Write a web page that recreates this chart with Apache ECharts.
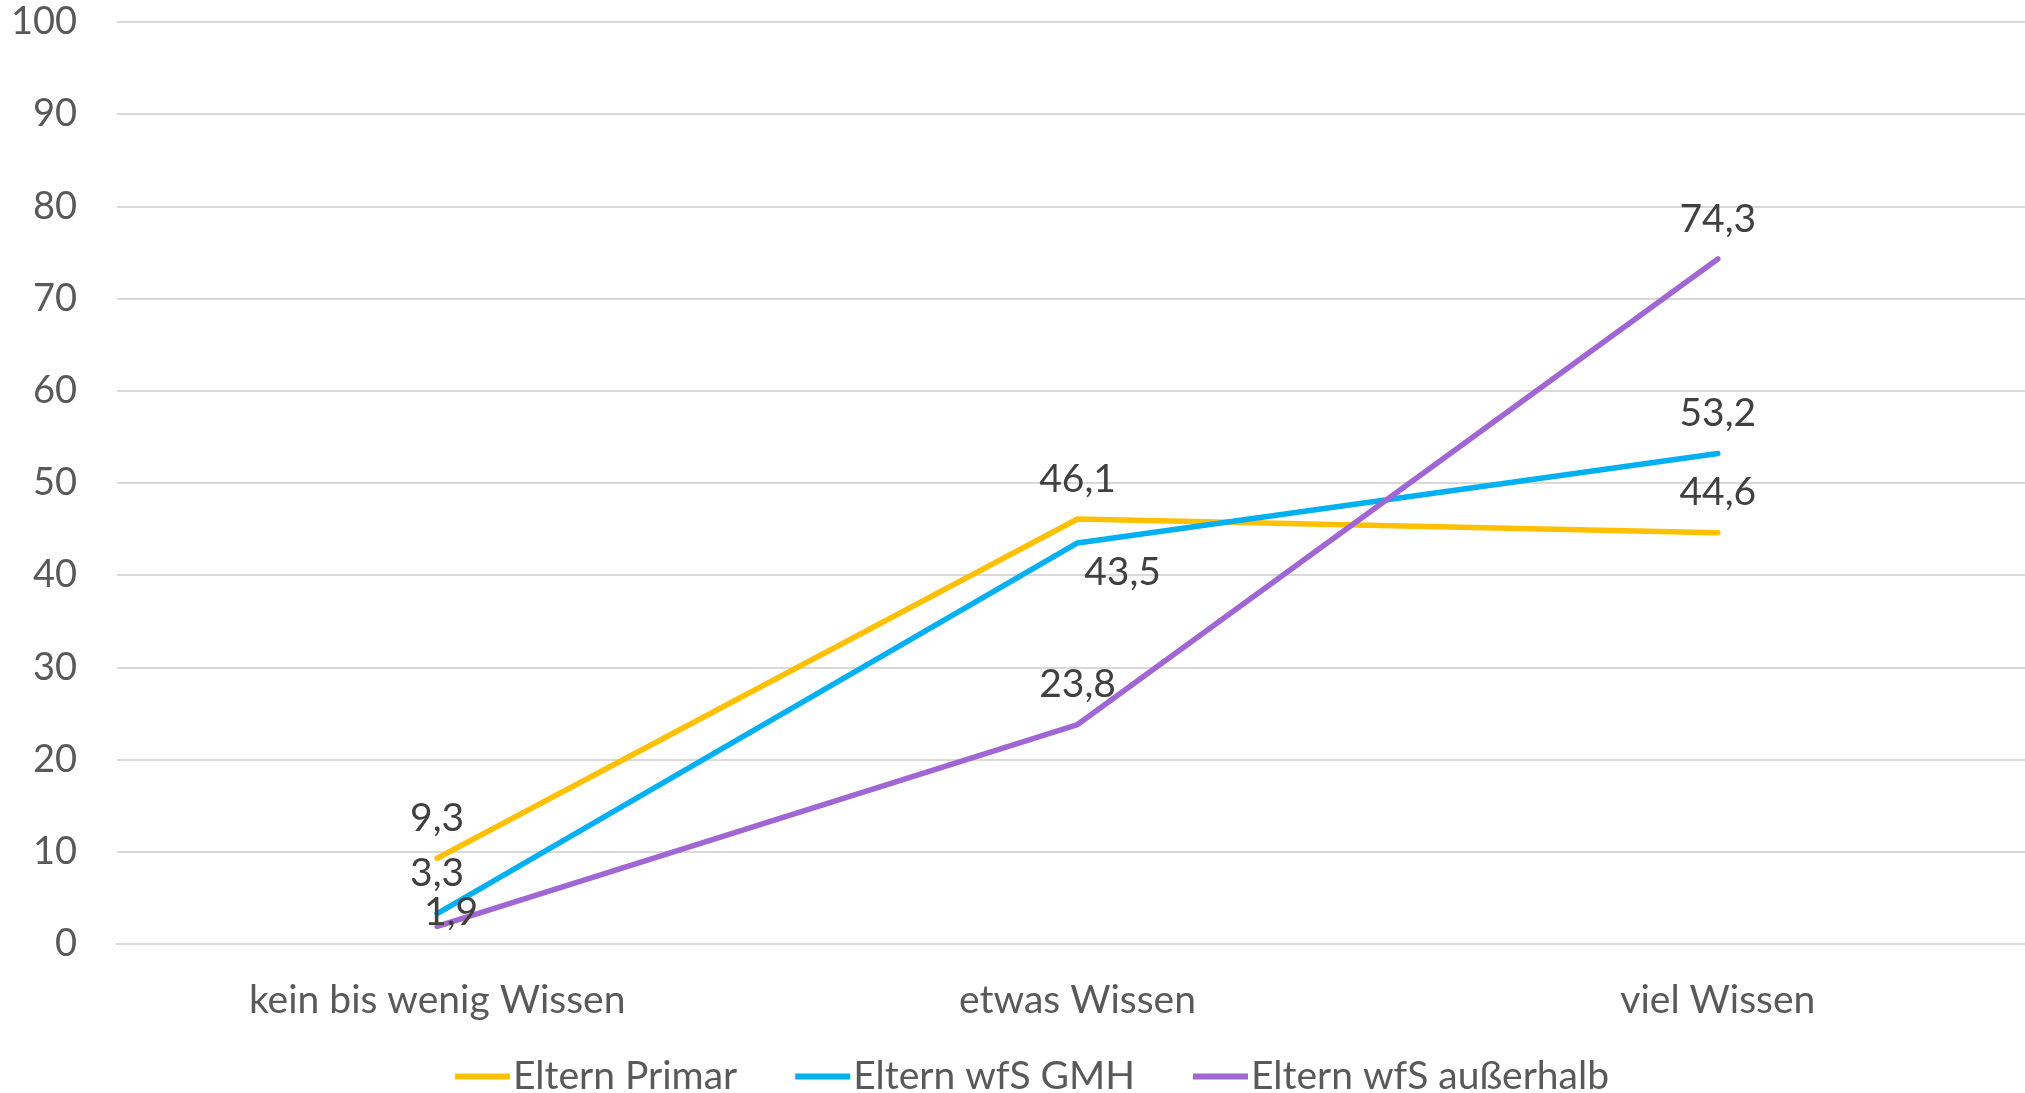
<!DOCTYPE html>
<html>
<head>
<meta charset="utf-8">
<script src="https://cdn.jsdelivr.net/npm/echarts@6/dist/echarts.min.js"></script>
<style>
  html, body { margin: 0; padding: 0; background: #ffffff; }
  #chart { width: 2025px; height: 1093px; }
</style>
</head>
<body>
<div id="chart"></div>
<script>
// data
var categories = ["kein bis wenig Wissen", "etwas Wissen", "viel Wissen"];
var seriesNames = ["Eltern Primar", "Eltern wfS GMH", "Eltern wfS außerhalb"];
var primar = [9.3, 46.1, 44.6];
var gmh = [3.3, 43.5, 53.2];
var ausserhalb = [1.9, 23.8, 74.3];
var yTicks = { min: 0, max: 100, interval: 10 };

var colors = ["#FFC000", "#00B0F0", "#A066D3"];
var font = "Lato";

// labels that Excel moved off the default "above" spot
var labelOffsets = {
  "1-1": [45, 69],
  "2-0": [14, 26]
};

function fmt(v) {
  return String(v).replace(".", ",");
}

function makeSeries(idx, values) {
  return {
    name: seriesNames[idx],
    type: "line",
    data: values.map(function (v, i) {
      var item = { value: v };
      var off = labelOffsets[idx + "-" + i];
      if (off) item.label = { offset: off };
      return item;
    }),
    symbol: "circle",
    symbolSize: 1,
    lineStyle: { width: 5.5, color: colors[idx], cap: "round", join: "round" },
    itemStyle: { color: colors[idx] },
    label: {
      show: true,
      position: "top",
      distance: 20,
      fontFamily: font,
      fontSize: 39,
      color: "#404040",
      formatter: function (p) { return fmt(p.value); }
    },
    emphasis: { disabled: true },
    animation: false
  };
}

var chart = echarts.init(document.getElementById("chart"));
chart.setOption({
  backgroundColor: "#ffffff",
  animation: false,
  color: colors,
  grid: {
    left: 117, width: 1921, top: 22, bottom: 149,
    containLabel: false, outerBoundsMode: "none"
  },
  legend: {
    data: seriesNames.map(function (n, i) {
      return { name: n, icon: "rect", itemStyle: { color: colors[i] } };
    }),
    left: 450,
    top: 1052,
    itemWidth: 55,
    itemHeight: 6,
    itemGap: 58,
    textStyle: { fontFamily: font, fontSize: 39, color: "#595959", padding: [0, 0, 0, -2] }
  },
  xAxis: {
    type: "category",
    data: categories,
    boundaryGap: true,
    axisLine: { show: true, lineStyle: { color: "#d9d9d9", width: 2 } },
    axisTick: { show: false },
    axisLabel: { margin: 37, fontFamily: font, fontSize: 39, color: "#595959" }
  },
  yAxis: {
    type: "value",
    min: yTicks.min,
    max: yTicks.max,
    interval: yTicks.interval,
    axisLine: { show: false },
    axisTick: { show: false },
    splitLine: { lineStyle: { color: "#d9d9d9", width: 2 } },
    axisLabel: { margin: 40, fontFamily: font, fontSize: 38, color: "#595959" }
  },
  series: [
    makeSeries(0, primar),
    makeSeries(1, gmh),
    makeSeries(2, ausserhalb)
  ]
});
</script>
</body>
</html>
